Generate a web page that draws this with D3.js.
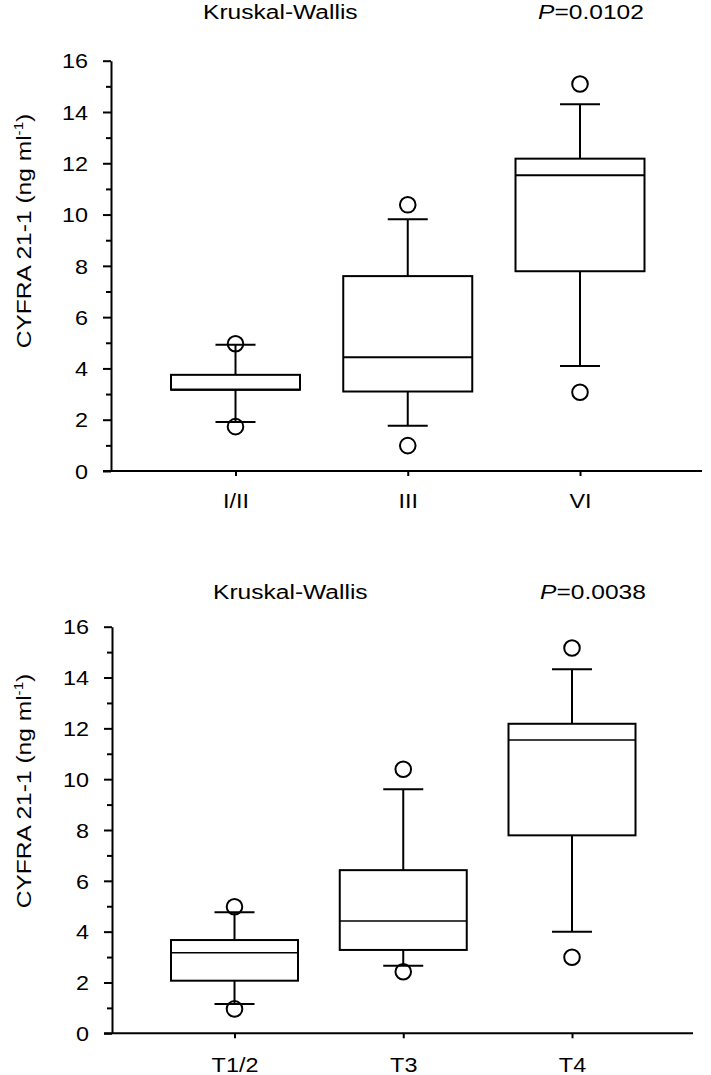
<!DOCTYPE html>
<html>
<head>
<meta charset="utf-8">
<script src="https://cdn.jsdelivr.net/npm/d3@7"></script>
<style>
  html, body { margin: 0; padding: 0; background: #fff; }
  svg { display: block; }
  text { font-family: "Liberation Sans", Arial, Helvetica, sans-serif; fill: #000; }
</style>
</head>
<body>
<svg id="chart" width="711" height="1075"></svg>
<script>
// ---- Data ----
const yTickValues = [0, 2, 4, 6, 8, 10, 12, 14, 16];
const yMinorTickValues = [1, 3, 5, 7, 9, 11, 13, 15];
const yLabel = "CYFRA 21-1 (ng ml";

// Panel A: stage
const stageCats = ["I/II", "III", "VI"];
const stageQ1 = [3.17, 3.10, 7.79];
const stageMedian = [3.17, 4.44, 11.53];
const stageQ3 = [3.75, 7.60, 12.18];
const stageWhiskerLow = [1.91, 1.76, 4.09];
const stageWhiskerHigh = [4.92, 9.82, 14.30];
const stageOutLow = [1.73, 0.99, 3.07];
const stageOutHigh = [4.96, 10.38, 15.09];
const stageTitle = "Kruskal-Wallis";
const stageP = "=0.0102";

// Panel B: T category
const tCats = ["T1/2", "T3", "T4"];
const tQ1 = [2.07, 3.28, 7.79];
const tMedian = [3.17, 4.42, 11.54];
const tQ3 = [3.67, 6.42, 12.18];
const tWhiskerLow = [1.15, 2.66, 4.00];
const tWhiskerHigh = [4.76, 9.60, 14.33];
const tOutLow = [0.96, 2.42, 2.99];
const tOutHigh = [4.98, 10.39, 15.16];
const tTitle = "Kruskal-Wallis";
const tP = "=0.0038";

const SX = 1.17; // horizontal stretch of glyphs in the reference

const svg = d3.select("#chart");

function drawPanel(cfg) {
  const g = svg.append("g");
  const y = d3.scaleLinear().domain([0, 16]).range([cfg.yBottom, cfg.yTop]);
  const x = d3.scalePoint().domain(cfg.cats).range(cfg.xRange);

  // minor y ticks
  g.append("g")
    .attr("transform", `translate(${cfg.axisX},0)`)
    .call(d3.axisLeft(y).tickValues(yMinorTickValues).tickSize(5).tickFormat(""))
    .call(a => a.select(".domain").remove())
    .call(a => a.selectAll("line").attr("stroke", "#000").attr("stroke-width", 2));

  // major y ticks + labels
  const ya = g.append("g")
    .attr("transform", `translate(${cfg.axisX},0)`)
    .call(d3.axisLeft(y).tickValues(yTickValues).tickSize(8).tickSizeOuter(0).tickPadding(15).tickFormat(d3.format("d")));
  ya.select(".domain").attr("stroke", "#000").attr("stroke-width", 2);
  ya.selectAll(".tick line").attr("stroke", "#000").attr("stroke-width", 2);
  ya.selectAll(".tick text")
    .attr("font-size", 20)
    .attr("font-family", "Liberation Sans, Arial, sans-serif")
    .each(function() {
      const t = d3.select(this);
      const tx = +t.attr("x");
      t.attr("x", 0).attr("dy", "0.36em").attr("transform", `translate(${tx},0) scale(${SX},1)`);
    });

  // x axis baseline
  g.append("line")
    .attr("x1", cfg.axisX - 8).attr("x2", cfg.xEnd)
    .attr("y1", y(0)).attr("y2", y(0))
    .attr("stroke", "#000").attr("stroke-width", 2);

  // x ticks + labels
  const xa = g.append("g")
    .attr("transform", `translate(0,${y(0)})`)
    .call(d3.axisBottom(x).tickSize(5).tickSizeOuter(0).tickPadding(18));
  xa.select(".domain").remove();
  xa.selectAll(".tick line").attr("stroke", "#000").attr("stroke-width", 2);
  xa.selectAll(".tick text")
    .attr("font-size", 20)
    .attr("font-family", "Liberation Sans, Arial, sans-serif")
    .attr("dy", "0")
    .each(function() {
      const t = d3.select(this);
      t.attr("y", 0).attr("transform", `translate(0,${cfg.xLabelOffset}) scale(${SX},1)`);
    });

  // boxes
  const data = cfg.cats.map((c, i) => ({
    c, q1: cfg.q1[i], med: cfg.med[i], q3: cfg.q3[i],
    wl: cfg.wl[i], wh: cfg.wh[i], ol: cfg.ol[i], oh: cfg.oh[i]
  }));
  const bw = cfg.boxWidth, cw = 40;
  const bg = g.selectAll(".box").data(data).enter().append("g").attr("class", "box");

  // whiskers
  bg.append("line")
    .attr("x1", d => x(d.c)).attr("x2", d => x(d.c))
    .attr("y1", d => y(d.q3)).attr("y2", d => y(d.wh))
    .attr("stroke", "#000").attr("stroke-width", 2);
  bg.append("line")
    .attr("x1", d => x(d.c)).attr("x2", d => x(d.c))
    .attr("y1", d => y(d.q1)).attr("y2", d => y(d.wl))
    .attr("stroke", "#000").attr("stroke-width", 2);
  bg.append("line")
    .attr("x1", d => x(d.c) - cw / 2).attr("x2", d => x(d.c) + cw / 2)
    .attr("y1", d => y(d.wh)).attr("y2", d => y(d.wh))
    .attr("stroke", "#000").attr("stroke-width", 2);
  bg.append("line")
    .attr("x1", d => x(d.c) - cw / 2).attr("x2", d => x(d.c) + cw / 2)
    .attr("y1", d => y(d.wl)).attr("y2", d => y(d.wl))
    .attr("stroke", "#000").attr("stroke-width", 2);

  // box
  bg.append("rect")
    .attr("x", d => x(d.c) - bw / 2).attr("width", bw)
    .attr("y", d => y(d.q3)).attr("height", d => y(d.q1) - y(d.q3))
    .attr("fill", "#fff").attr("stroke", "#000").attr("stroke-width", 2);
  bg.append("line")
    .attr("x1", d => x(d.c) - bw / 2).attr("x2", d => x(d.c) + bw / 2)
    .attr("y1", d => y(d.med)).attr("y2", d => y(d.med))
    .attr("stroke", "#000").attr("stroke-width", cfg.medWidth);

  // outliers
  bg.append("circle")
    .attr("cx", d => x(d.c)).attr("cy", d => y(d.oh)).attr("r", 7.8)
    .attr("fill", "none").attr("stroke", "#000").attr("stroke-width", 2);
  bg.append("circle")
    .attr("cx", d => x(d.c)).attr("cy", d => y(d.ol)).attr("r", 7.8)
    .attr("fill", "none").attr("stroke", "#000").attr("stroke-width", 2);

  // y label
  const lab = g.append("text")
    .attr("text-anchor", "middle")
    .attr("font-size", 21)
    .attr("transform", `translate(${cfg.yLabelX},${cfg.yLabelY}) rotate(-90) scale(${SX},1)`);
  lab.append("tspan").text(yLabel);
  lab.append("tspan").attr("font-size", 13).attr("dy", "-0.6em").text("-1");
  lab.append("tspan").attr("dy", "0.38em").text(")");

  // titles
  g.append("text")
    .attr("font-size", 21)
    .attr("transform", `translate(${cfg.titleX},${cfg.titleY}) scale(${SX},1)`)
    .text(cfg.title);
  const p = g.append("text")
    .attr("font-size", 21)
    .attr("transform", `translate(${cfg.pX},${cfg.titleY}) scale(${SX},1)`);
  p.append("tspan").attr("font-style", "italic").text("P");
  p.append("tspan").text(cfg.p);
}

drawPanel({
  cats: stageCats, q1: stageQ1, med: stageMedian, q3: stageQ3,
  wl: stageWhiskerLow, wh: stageWhiskerHigh, ol: stageOutLow, oh: stageOutHigh,
  yBottom: 471, yTop: 60.7, axisX: 111, xEnd: 702, xRange: [235.5, 580],
  boxWidth: 129, medWidth: 2, xLabelOffset: 37,
  yLabelX: 31, yLabelY: 231,
  title: stageTitle, p: stageP, titleX: 203, pX: 538, titleY: 18.5
});

drawPanel({
  cats: tCats, q1: tQ1, med: tMedian, q3: tQ3,
  wl: tWhiskerLow, wh: tWhiskerHigh, ol: tOutLow, oh: tOutHigh,
  yBottom: 1033.3, yTop: 626.7, axisX: 112, xEnd: 693, xRange: [234.5, 572],
  boxWidth: 127, medWidth: 1.6, xLabelOffset: 38.5,
  yLabelX: 31, yLabelY: 791,
  title: tTitle, p: tP, titleX: 213, pX: 540, titleY: 598.5
});
</script>
</body>
</html>
